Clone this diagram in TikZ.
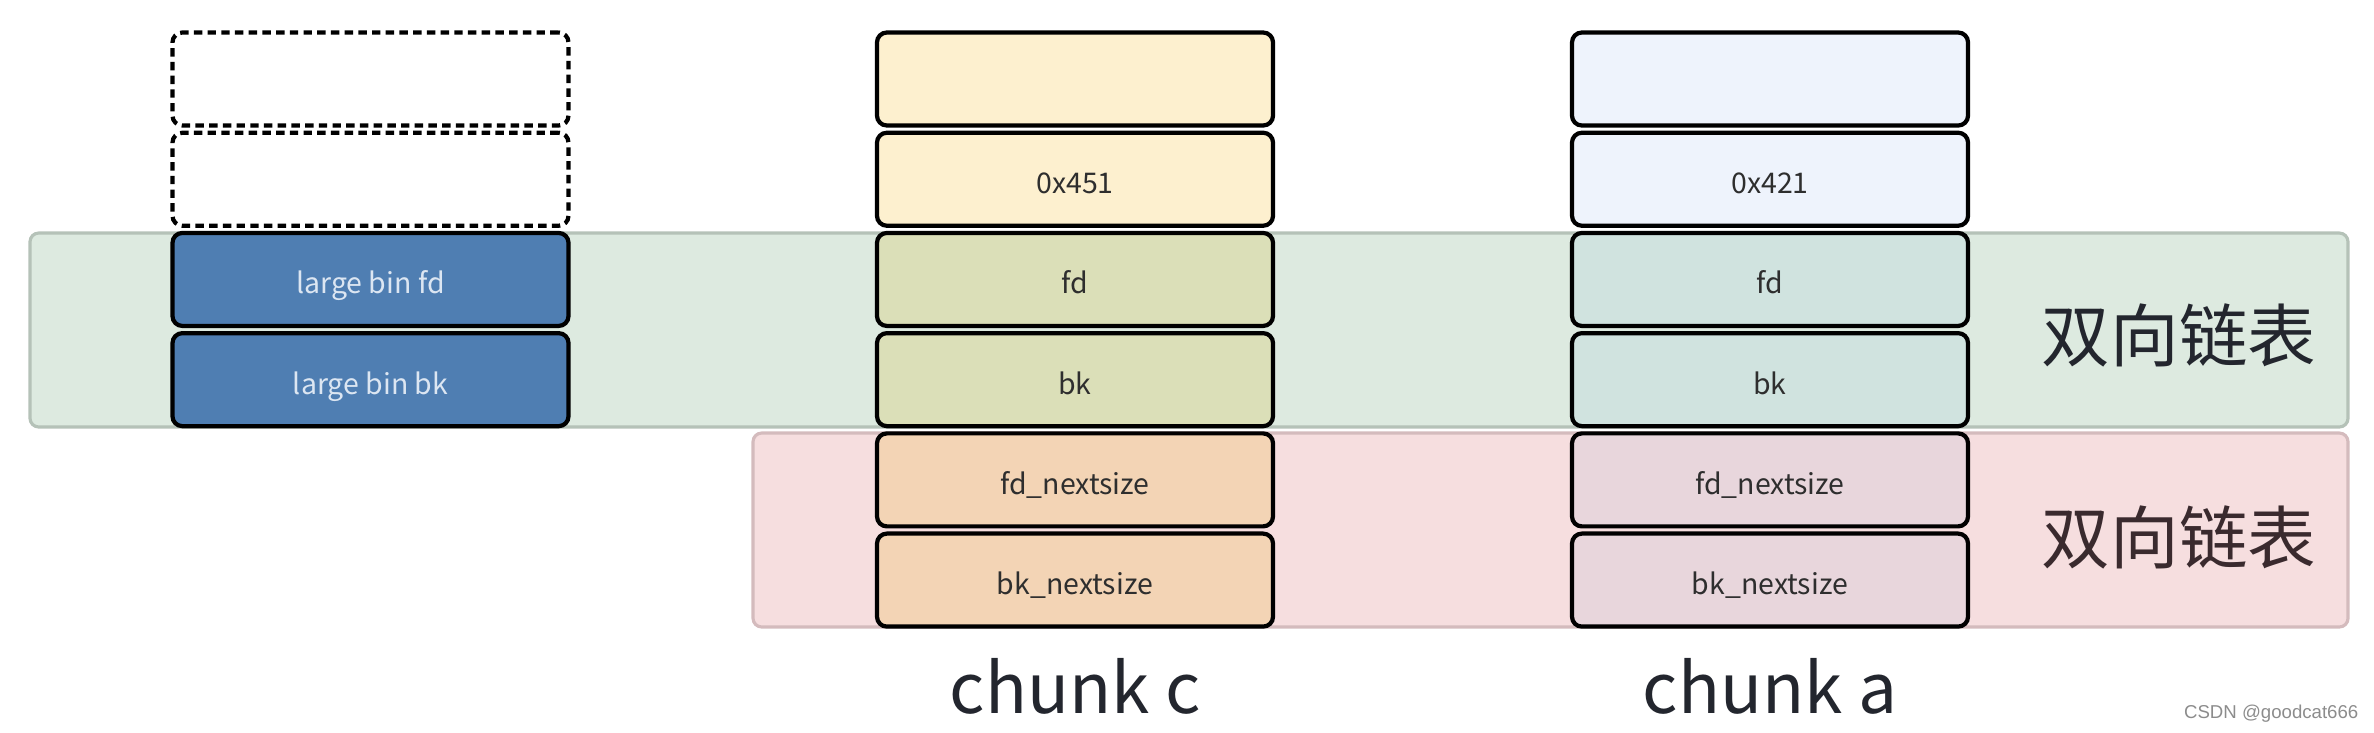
\documentclass[tikz,border=0pt]{standalone}
\usepackage{fontspec}
\setmainfont{Noto Sans CJK SC}
\newfontfamily\wmfont{Liberation Sans}
\usepackage{tikz}
\usetikzlibrary{positioning}
\usepackage{xcolor}
\definecolor{cellink}{HTML}{2E2E2E}
\definecolor{binblue}{HTML}{4F7EB2}
\definecolor{binink}{HTML}{DCE6F2}
\definecolor{creamc}{HTML}{FDF0CF}
\definecolor{olivec}{HTML}{DBDFB8}
\definecolor{peachc}{HTML}{F3D4B5}
\definecolor{bluea}{HTML}{EEF3FC}
\definecolor{teala}{HTML}{D0E3DF}
\definecolor{mauvea}{HTML}{E8D6DC}
\definecolor{bandgreen}{HTML}{DDEAE0}
\definecolor{bandgreenline}{HTML}{B5C2B8}
\definecolor{bandpink}{HTML}{F6DEDF}
\definecolor{bandpinkline}{HTML}{D4BBBD}
\definecolor{greenink}{HTML}{23262E}
\definecolor{pinkink}{HTML}{3A2A2E}
\newcommand{\cellsize}{\fontsize{8.1}{10}\selectfont}
\tikzset{
  cell/.style={draw=black, line width=1.2pt, rounded corners=2.8pt,
    minimum width=3.96cm, minimum height=0.93cm, inner sep=0pt,
    text height=0.82em, text depth=0pt,
    font=\cellsize, text=cellink},
  emptycell/.style={cell, fill=white, dash pattern=on 2.4pt off 1.5pt},
  bincell/.style={cell, fill=binblue, text=binink},
  band/.style={line width=0.9pt, rounded corners=2.5pt, inner sep=0pt,
    minimum height=1.94cm},
  bandtext/.style={font=\fontsize{19.5}{22}\selectfont, inner sep=0pt},
  chunklabel/.style={font=\fontsize{19.7}{24}\selectfont, text=greenink, inner sep=0pt}
}

\begin{document}
\begin{tikzpicture}
  \useasboundingbox (0,0) rectangle (23.74,-7.32);
  % Bands
  \node[band, draw=bandgreenline, fill=bandgreen, minimum width=23.18cm]
    (listfd) at (11.89,-3.30) {};
  \node[band, draw=bandpinkline, fill=bandpink, minimum width=15.95cm]
    (listnext) at (15.505,-5.30) {};
  % Large bin head
  \node[emptycell] (bintop) at (3.705,-0.79) {};
  \node[emptycell, below=0.03 of bintop] (binsize) {};
  \node[bincell, below=0.03 of binsize] (binfd) {large bin fd};
  \node[bincell, below=0.03 of binfd] (binbk) {large bin bk};
  % Chunks
  \foreach \cx/\nm/\sz/\ctop/\cmid/\cbot in
      {10.75/c/0x451/creamc/olivec/peachc, 17.70/a/0x421/bluea/teala/mauvea} {
    \node[cell, fill=\ctop] (\nm1) at (\cx,-0.79) {};
    \node[cell, fill=\ctop, below=0.03 of \nm1] (\nm2) {\sz};
    \node[cell, fill=\cmid, below=0.03 of \nm2] (\nm3) {fd};
    \node[cell, fill=\cmid, below=0.03 of \nm3] (\nm4) {bk};
    \node[cell, fill=\cbot, below=0.03 of \nm4] (\nm5) {fd\_nextsize};
    \node[cell, fill=\cbot, below=0.03 of \nm5] (\nm6) {bk\_nextsize};
    \node[chunklabel, below=0.29 of \nm6] (label\nm) {chunk \nm};
  }
  % List captions
  \node[bandtext, text=greenink] (listfdtxt) at (21.79,-3.35) {双向链表};
  \node[bandtext, text=pinkink] (listnexttxt) at (21.79,-5.37) {双向链表};
  % Watermark
  \node[anchor=east, inner sep=0pt, text=black!45, font=\wmfont\fontsize{5.3}{6}\selectfont]
    (mark) at (23.59,-7.14) {CSDN @goodcat666};
\end{tikzpicture}
\end{document}
